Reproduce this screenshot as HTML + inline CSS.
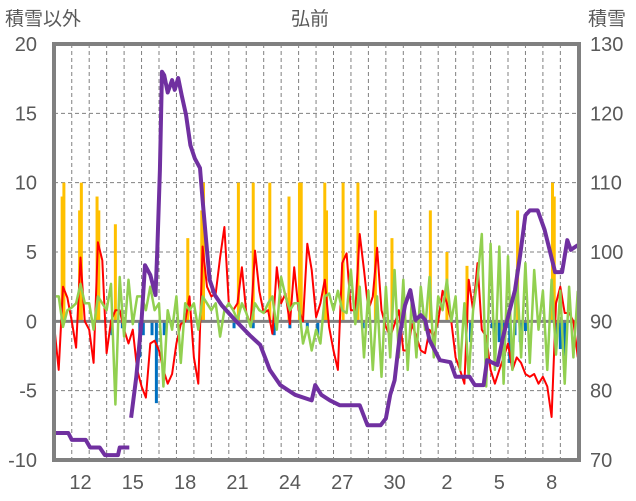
<!DOCTYPE html>
<html><head><meta charset="utf-8"><style>
body{margin:0;background:#fff;}
svg{display:block;font-family:"Liberation Sans","Noto Sans CJK JP",sans-serif;}
</style></head><body>
<svg id="c" width="636" height="501" viewBox="0 0 636 501">
<text x="5" y="25" font-size="19" fill="#595959">積雪以外</text>
<text x="310" y="25" font-size="19" fill="#595959" text-anchor="middle">弘前</text>
<text x="588" y="25" font-size="19" fill="#595959">積雪</text>
<g id="grid"></g>
<g id="bars"></g>
<g id="lines"></g>
<g id="axes"></g>
</svg>
<script>
const dayLabels=["12","15","18","21","24","27","30","2","5","8"];
const dayLabelIdx=[1,4,7,10,13,16,19,22,25,28];
const leftTicks=[20,15,10,5,0,-5,-10];
const rightTicks=[130,120,110,100,90,80,70];
const redVals=[-0.4,-3.5,2.5,1.7,0,-1.9,4.6,0,-0.6,-3,5.7,4.4,-2.3,0,0.8,0.8,-0.6,-1.6,-0.6,-3.5,-4.7,-5.5,-1.6,-1.4,-2.1,-3.5,-4.5,-3.8,-1.6,-0.2,0,1.8,-2.6,-4.5,5.4,2.5,1.8,2,4.6,6.8,1.3,0.8,1.3,3.9,0.6,-0.2,5.1,2.2,0.6,0.8,-0.9,3.9,1.3,2,-0.2,3.9,0.8,0,5.6,3.7,0.3,1.3,3,-0.4,-2.1,-3.5,4.2,4.9,0.8,0.8,6.3,3.7,0.8,1.8,5.3,0.8,-0.4,-1.1,-0.2,0.8,-2.1,-2.1,-0.2,-1.1,-2.1,-2.3,-0.6,-1.1,0,2.2,1.3,0,-2.6,-3.5,-4.5,3,0.8,4.2,-0.6,-1.1,-3.5,-4.5,-3.5,-2.6,-1.6,-3.5,-2.6,-3,-3.8,-4,-3.8,-4.5,-4,-4.7,-6.9,1.3,2.5,0.6,0.6,0,-2.6];
const greenVals=[1.8,1.8,-0.4,0.8,1,1.3,2.7,1.3,1.3,-0.6,1.8,1.3,0.8,2.7,-6,3.2,-1.1,3,-0.2,1.8,1.8,0.8,2.5,0.8,1.3,-4.7,0.8,-0.6,1.8,-3,1.3,0.8,1.3,-0.6,1.8,1.3,0.8,1.3,-1.1,0.8,1.3,0.8,0.1,1.3,0.6,-0.4,1.3,0.8,0.6,1.3,1.8,-0.6,3.2,1.8,0.8,1.3,1.3,-1.6,-0.4,-2.1,-0.6,-1.6,1.8,2,0.8,2.2,0.8,0.6,3.7,-0.2,2.5,-2.6,2.2,-3.5,1.8,-4,2.5,-2.6,3.7,-2.6,3,-3.5,1.8,-2.6,2.5,-0.6,3.2,-2.6,1.8,0.8,3,0,1.8,-3.5,1.3,-4,0.8,3,6.3,-4.7,5.6,-3.5,5.4,-4.5,4.7,-3.5,3.7,-2.6,4.2,-3,3.7,-0.6,2.2,-3.5,3,-2.4,2.2,-4.5,2.5,-2.6,2.2];
const snowDays=[0,0.8,1.0,1.8,2.05,2.6,2.9,3.65,3.75,4.3,null,4.4,4.7,5.0,5.2,5.5,5.8,5.9,6.05,6.17,6.3,6.5,6.75,6.9,7.1,7.3,7.55,7.8,8.05,8.35,8.5,8.7,8.9,9.2,9.6,10.35,11.2,11.8,12.35,12.95,13.8,14.75,14.95,15.3,15.8,16.35,17.5,17.95,18.7,19.0,19.25,19.5,19.8,20.1,20.4,20.7,21.0,21.25,21.5,22.1,22.7,23.0,23.8,24.1,24.6,24.8,25.4,25.7,26.1,26.4,26.7,27.0,27.25,27.7,28.1,28.7,29.1,29.4,29.6,30];
const snowVals=[73.9,73.9,72.9,72.9,71.8,71.8,70.7,70.7,71.8,71.8,null,76.1,82,90.2,98.1,96.7,93.8,100.3,111.8,126,125.5,123,124.8,123.4,125.1,122.6,119.8,115.4,113.5,112.1,107.5,101.7,96,93.8,92.3,90.2,88,86.6,83,80.8,79.4,78.6,80.8,79.4,78.6,77.9,77.9,75,75,76,79.4,81.5,88,92.3,94.5,90.2,90.9,90.2,87.3,84.4,84.1,82,82,80.8,80.8,84.4,83.7,87.6,91.6,94.5,99.6,105.3,106,106,103.2,97.1,97.1,101.7,100.3,101];
const precipDays=[0.45,0.55,1.45,1.55,2.45,2.55,3.5,7.65,8.45,8.55,10.55,11.4,12.35,13.45,14.05,14.15,15.5,15.6,16.55,17.4,18.4,19.35,21.55,22.5,23.65,26.55,28.55,28.65];
const precipVals=[9,10,8,10,9,8,7,6,8,10,10,10,10,9,10,10,10,8,10,10,8,6,8,5,4,8,10,9];
const negDays=[3.3,3.9,4.9,5.1,5.6,5.85,6.3,8.3,10.3,11.4,12.6,13.5,14.5,15.1,17.7,23.85,25.1,25.3,25.5,25.8,26.1,26.4,26.7,27.0,28.8,29.0,29.25];
const negVals=[-1,-0.5,-2.6,-1,-1,-5.9,-1,-0.5,-0.5,-0.5,-1,-0.5,-0.5,-1,-0.5,-1.5,-0.5,-1,-1.5,-2.5,-3,-1,-1.5,-0.7,-1,-2,-2.5];

const NS="http://www.w3.org/2000/svg";
const X0=54.3, DW=17.45, YT=44, YB=460;
const xs=d=>X0+DW*d;
const yL=v=>YT+(20-v)*(YB-YT)/30;
const yR=v=>YT+(130-v)*(YB-YT)/60;
function mk(tag,attrs,parent){const e=document.createElementNS(NS,tag);for(const k in attrs)e.setAttribute(k,attrs[k]);parent.appendChild(e);return e;}
const grid=document.getElementById('grid'),bars=document.getElementById('bars'),lines=document.getElementById('lines'),axes=document.getElementById('axes');
for(let d=1;d<30;d++){const l=mk('line',{x1:xs(d),x2:xs(d),y1:YT,y2:YB,stroke:'#808080','stroke-width':1,'stroke-dasharray':'4,3'},grid);

}
[15,10,5,-5].forEach(v=>{const l=mk('line',{x1:54,x2:579,y1:yL(v),y2:yL(v),stroke:'#808080','stroke-width':1,'stroke-dasharray':'4,3'},grid);

});
precipDays.forEach((d,i)=>{const v=precipVals[i];const r=mk('rect',{x:xs(d)-1.5,y:yL(v),width:3,height:yL(0)-yL(v),fill:'#FFC000'},bars);

});
negDays.forEach((d,i)=>{const v=negVals[i];const r=mk('rect',{x:xs(d)-1.5,y:yL(0),width:3,height:yL(v)-yL(0),fill:'#0070C0'},bars);

});
const z=mk('line',{x1:54,x2:579,y1:yL(0),y2:yL(0),stroke:'#808080','stroke-width':3},bars);


function series(vals,color,w,name){const pts=vals.map((v,i)=>xs(i*0.25).toFixed(1)+','+yL(v).toFixed(1)).join(' ');
const p=mk('polyline',{points:pts,fill:'none',stroke:color,'stroke-width':w,'stroke-linejoin':'round'},lines);

}
series(redVals,'#FF0000',2,'temperature-line');
series(greenVals,'#92D050',2.5,'green-series-line');
let segs=[[]];snowDays.forEach((d,i)=>{if(d===null){segs.push([]);}else segs[segs.length-1].push(xs(d).toFixed(1)+','+yR(snowVals[i]).toFixed(1));});
segs.forEach(s=>{const p=mk('polyline',{points:s.join(' '),fill:'none',stroke:'#7030A0','stroke-width':4,'stroke-linejoin':'round'},lines);

});
const b=mk('rect',{x:54,y:44,width:525,height:416,fill:'none',stroke:'#808080','stroke-width':4},axes);


leftTicks.forEach(v=>{const t=mk('text',{x:37,y:yL(v)+7,'font-size':20,fill:'#595959','text-anchor':'end'},axes);t.textContent=v;

});
rightTicks.forEach(v=>{const t=mk('text',{x:590,y:yR(v)+7,'font-size':20,fill:'#595959'},axes);t.textContent=v;

});
dayLabels.forEach((s,i)=>{const t=mk('text',{x:xs(dayLabelIdx[i]+0.5),y:489,'font-size':20,fill:'#595959','text-anchor':'middle'},axes);t.textContent=s;

});
</script>
</body></html>
